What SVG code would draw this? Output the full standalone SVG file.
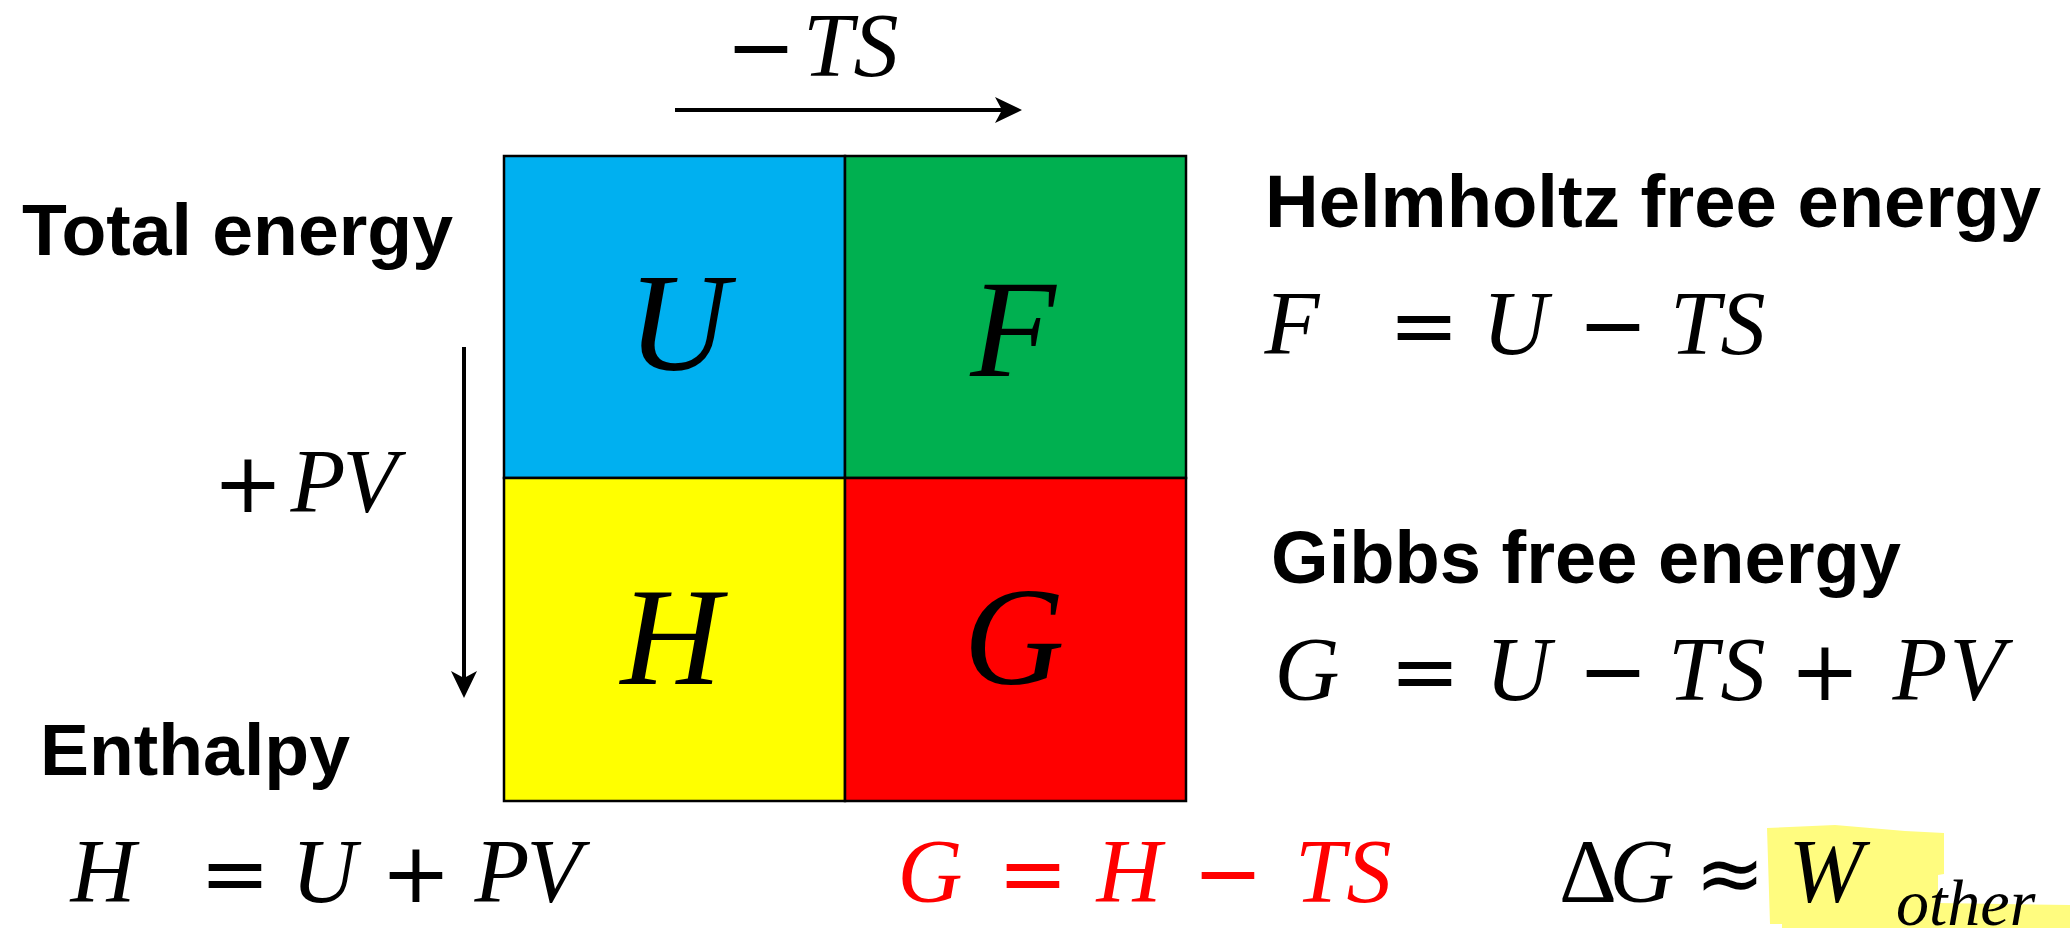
<svg xmlns="http://www.w3.org/2000/svg" width="2070" height="928" viewBox="0 0 2070 928">
<style>
.hd{font-family:"Liberation Sans",Arial,sans-serif;font-weight:bold;fill:#000}
.m{font-family:"Liberation Serif","Times New Roman",serif;font-style:italic;font-size:90px;fill:#000}
.op{font-family:"DejaVu Sans",sans-serif;font-style:normal;font-size:84px}
.gr{font-style:normal}
.sub{font-size:66px}
.big{font-family:"Liberation Serif","Times New Roman",serif;font-style:italic;font-size:140px;fill:#000}
.cell{stroke:#000;stroke-width:2.5}
.arr{stroke:#000;stroke-width:4;fill:none}
.red{fill:#FF0000}
</style>
<defs>
<marker id="ah" viewBox="-12 -15 32 30" refX="0" refY="0" markerWidth="32" markerHeight="30" markerUnits="userSpaceOnUse" orient="auto">
<path d="M18,0 L-9,-13 L-2,0 L-9,13 Z" fill="#000"/>
</marker>
</defs>
<rect width="2070" height="928" fill="#fff"/>

<g id="cellU"><rect class="cell" x="504" y="156" width="341" height="322" fill="#00B0F0"/><text class="big" x="678" y="370" text-anchor="middle">U</text></g>
<g id="cellF"><rect class="cell" x="845" y="156" width="341" height="322" fill="#00B050"/><text class="big" x="1013" y="376" text-anchor="middle">F</text></g>
<g id="cellH"><rect class="cell" x="504" y="478" width="341" height="323" fill="#FFFF00"/><text class="big" x="671" y="684" text-anchor="middle">H</text></g>
<g id="cellG"><rect class="cell" x="845" y="478" width="341" height="323" fill="#FF0000"/><text class="big" x="1014" y="684" text-anchor="middle">G</text></g>

<g id="connectors">
<line class="arr" x1="675" y1="110" x2="1004" y2="110" marker-end="url(#ah)"/>
<line class="arr" x1="464" y1="347" x2="464" y2="680" marker-end="url(#ah)"/>
</g>

<g id="label-ts"><text class="m" y="76" text-anchor="middle"><tspan class="op" x="761">−</tspan><tspan x="828">T</tspan><tspan x="876">S</tspan></text></g>
<g id="label-pv"><text class="m" y="512" text-anchor="middle"><tspan class="op" x="248">+</tspan><tspan x="318">P</tspan><tspan x="370">V</tspan></text></g>

<g id="total"><text class="hd" x="22" y="255" font-size="72" textLength="431" lengthAdjust="spacingAndGlyphs">Total energy</text></g>
<g id="enthalpy"><text class="hd" x="40" y="775" font-size="72" textLength="310" lengthAdjust="spacingAndGlyphs">Enthalpy</text>
<text class="m" y="902" text-anchor="middle"><tspan x="103">H</tspan><tspan class="op" x="235">=</tspan><tspan x="324">U</tspan><tspan class="op" x="416">+</tspan><tspan x="502">P</tspan><tspan x="554">V</tspan></text></g>

<g id="helmholtz"><text class="hd" x="1265" y="227" font-size="74" textLength="776" lengthAdjust="spacingAndGlyphs">Helmholtz free energy</text>
<text class="m" y="354" text-anchor="middle"><tspan x="1292">F</tspan><tspan class="op" x="1424">=</tspan><tspan x="1515">U</tspan><tspan class="op" x="1613">−</tspan><tspan x="1695">T</tspan><tspan x="1743">S</tspan></text></g>

<g id="gibbs"><text class="hd" x="1271" y="583" font-size="74" textLength="630" lengthAdjust="spacingAndGlyphs">Gibbs free energy</text>
<text class="m" y="700" text-anchor="middle"><tspan x="1307">G</tspan><tspan class="op" x="1425">=</tspan><tspan x="1518">U</tspan><tspan class="op" x="1613">−</tspan><tspan x="1693">T</tspan><tspan x="1743">S</tspan><tspan class="op" x="1825">+</tspan><tspan x="1920">P</tspan><tspan x="1977">V</tspan></text></g>

<g id="gh"><text class="m red" y="902" text-anchor="middle"><tspan x="930">G</tspan><tspan class="op" x="1033">=</tspan><tspan x="1129">H</tspan><tspan class="op" x="1228">−</tspan><tspan x="1320">T</tspan><tspan x="1369">S</tspan></text></g>

<g id="dg">
<polygon points="1767,828 1835,825 1905,831 1944,833 1944,874 1938,875 1938,903 2070,905 2070,928 1782,928 1782,924 1770,924" fill="#FFFC7F"/>
<text class="m" y="902" text-anchor="middle"><tspan class="gr" x="1588">Δ</tspan><tspan x="1642">G</tspan><tspan class="op" x="1730">≈</tspan><tspan x="1826">W</tspan></text>
<text class="m sub" x="1896" y="925">other</text>
</g>
</svg>
